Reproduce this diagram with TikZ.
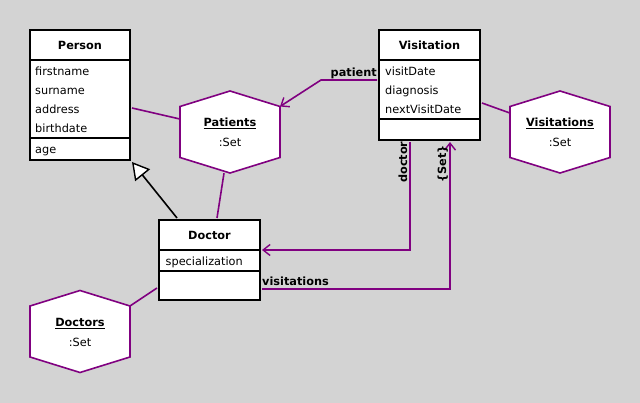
\documentclass[tikz,border=0pt]{standalone}
\usepackage{fontspec}
\setmainfont{DejaVu Sans}
\usetikzlibrary{arrows.meta,calc}
\definecolor{bg}{HTML}{D3D3D3}
\definecolor{umlpurple}{HTML}{800080}
\newcommand\umlhex[4]{%
  \draw[hexst] ({#2-50},{#3-25.5}) coordinate (#1ul) -- ({#2},{#3-41}) -- ({#2+50},{#3-25.5}) coordinate (#1ur)
    -- ({#2+50},{#3+25.5}) -- ({#2},{#3+41}) -- ({#2-50},{#3+25.5}) -- cycle;
  \node[minimum width=100pt, minimum height=82pt, inner sep=0pt] (#1) at (#2,#3) {};
  \node[hextext, anchor=base] (#1T) at ({#2},{#3-5.3}) {\textbf{\underline{#4}}};
  \node[hextext, anchor=base] (#1S) at ({#2},{#3+14.7}) {:Set};
}
\tikzset{
  classbox/.style={draw=black, line width=2pt, fill=white, inner sep=0pt, rectangle},
  divider/.style={draw=black, line width=2pt},
  title/.style={font=\fontsize{11.3}{13}\selectfont\bfseries, inner sep=0pt, anchor=base},
  attr/.style={font=\fontsize{11.3}{13}\selectfont, inner sep=0pt, anchor=base west},
  hexst/.style={draw=umlpurple, line width=1.6pt, fill=white},
  hextext/.style={font=\fontsize{11.3}{13}\selectfont, inner sep=0pt},
  link/.style={draw=umlpurple, line width=1.6pt},
  nav/.style={link, -{Straight Barb[length=7pt,width=11pt,line width=1.4pt]}},
  role/.style={font=\fontsize{11.3}{13}\selectfont\bfseries, inner sep=0pt},
  gen/.style={draw=black, line width=1.6pt, -{Triangle[open,length=17pt,width=19pt,fill=white,line width=1.4pt]}},
}
\begin{document}
\begin{tikzpicture}[x=1pt,y=-1pt]
\path[fill=bg] (0,0) rectangle (640,403);
\useasboundingbox (0,0) rectangle (640,403);
% Person
\node[classbox, minimum width=100pt, minimum height=130pt] (person) at (80,95) {};
\draw[divider] (30,60) -- (130,60);
\draw[divider] (30,138) -- (130,138);
\node[title] (personT) at (80,49.3) {Person};
\node[attr] (pa1) at (35,75.7) {firstname};
\node[attr] (pa2) at (35,94.7) {surname};
\node[attr] (pa3) at (35,113.7) {address};
\node[attr] (pa4) at (35,132.3) {birthdate};
\node[attr] (pa5) at (35,153.3) {age};
% Visitation
\node[classbox, minimum width=101pt, minimum height=110pt] (visitation) at (429.5,85) {};
\draw[divider] (379,60) -- (480,60);
\draw[divider] (379,119) -- (480,119);
\node[title] (visT) at (429.5,49.3) {Visitation};
\node[attr] (va1) at (385,75.7) {visitDate};
\node[attr] (va2) at (385,94.7) {diagnosis};
\node[attr] (va3) at (385,113.7) {nextVisitDate};
% Doctor
\node[classbox, minimum width=101pt, minimum height=80pt] (doctor) at (209.5,260) {};
\draw[divider] (159,250) -- (260,250);
\draw[divider] (159,271) -- (260,271);
\node[title] (docT) at (209.5,239.3) {Doctor};
\node[attr] (da1) at (165.5,265.7) {specialization};
% Hexagons
\umlhex{patients}{230}{132}{Patients}
\umlhex{visitations}{560}{132}{Visitations}
\umlhex{doctors}{80}{331.5}{Doctors}
% plain links
\draw[link] ($(person.east)+(1,13)$) -- ($(patients.west)+(0,-13)$);
\draw[link] ($(patients.south)+(-6,0)$) -- ($(doctor.north)+(7.5,-1)$);
\draw[link] ($(doctor.west)+(-1,28)$) -- (doctorsur);
\draw[link] ($(visitation.east)+(1,18)$) -- ($(visitations.west)+(0,-19)$);
% generalization
\draw[gen] ($(doctor.north)+(-32.5,-1)$) -- ($(person.south east)+(1,1)$);
% navigable associations
\coordinate (pbend) at (321,80);
\draw[nav] ($(visitation.west)+(-1,-5)$) -- (pbend) -- (patientsur);
\node[role, anchor=base east] (patientL) at (377,77) {patient};
\draw[nav] ($(visitation.south)+(-19.5,1)$) |- ($(doctor.east)+(1,-10)$);
\node[role, rotate=90, anchor=base west] (doctorL) at (407,183) {doctor};
\draw[nav] ($(doctor.east)+(1,29)$) -| ($(visitation.south)+(20.5,1)$);
\node[role, anchor=base west] (visitationsL) at (262,286) {visitations};
\node[role, rotate=90, anchor=base west] (setL) at (446,183) {\{Set\}};
\end{tikzpicture}
\end{document}
